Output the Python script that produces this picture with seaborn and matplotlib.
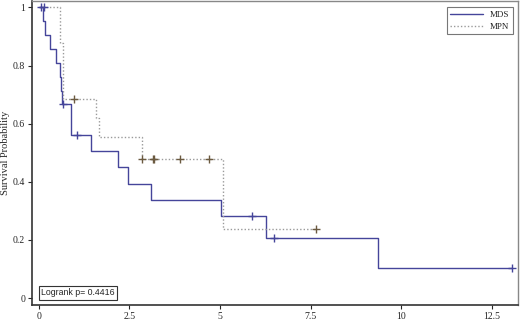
import matplotlib
matplotlib.use("Agg")
import matplotlib.pyplot as plt
import seaborn as sns
import pandas as pd

sns.set_style("ticks")
plt.rcParams['font.family'] = ['Liberation Serif', 'DejaVu Serif']

# MDS step curve (time in years, survival)
mds_time = [0.0, 0.10, 0.17, 0.30, 0.47, 0.58, 0.61, 0.65, 0.88, 0.89, 1.43, 2.19, 2.45, 3.08, 5.03, 6.26, 9.36, 13.06]
mds_surv = [1.0, 0.953, 0.905, 0.857, 0.810, 0.762, 0.714, 0.667, 0.615, 0.561, 0.506, 0.450, 0.393, 0.337, 0.281, 0.208, 0.104, 0.104]
mds_cens_t = [0.05, 0.15, 0.67, 1.04, 5.88, 6.49, 13.06]
mds_cens_s = [1.0, 1.0, 0.667, 0.561, 0.281, 0.208, 0.104]

# MPN step curve
mpn_time = [0.0, 0.58, 0.67, 1.57, 1.67, 2.84, 5.09, 7.65]
mpn_surv = [1.0, 0.877, 0.685, 0.619, 0.553, 0.479, 0.2375, 0.2375]
mpn_cens_t = [0.97, 2.84, 3.14, 3.18, 3.9, 4.70, 7.65]
mpn_cens_s = [0.685, 0.479, 0.479, 0.479, 0.479, 0.479, 0.2375]

xticks = [0, 2.5, 5, 7.5, 10, 12.5]
xticklabels = ["0", "2.5", "5", "7.5", "10", "12.5"]
yticks = [0, 0.2, 0.4, 0.6, 0.8, 1.0]
yticklabels = ["0", "0.2", "0.4", "0.6", "0.8", "1"]

mds_color = "#45459a"
mpn_color = "#9a9a9a"
cens_mpn_color = "#6b5a40"

fig = plt.figure(figsize=(5.2, 3.2), dpi=100)
ax = fig.add_axes([32/520, 15/320, (518-32)/520, (319-15)/320])

df_mds = pd.DataFrame({"t": mds_time, "s": mds_surv})
df_mpn = pd.DataFrame({"t": mpn_time, "s": mpn_surv})

sns.lineplot(data=df_mds, x="t", y="s", ax=ax, drawstyle="steps-post", color=mds_color,
             linewidth=1.0, label="MDS", estimator=None, sort=False)
sns.lineplot(data=df_mpn, x="t", y="s", ax=ax, drawstyle="steps-post", color=mpn_color,
             linewidth=1.0, linestyle=(0, (1, 1.5)), label="MPN", estimator=None, sort=False)

sns.scatterplot(x=mds_cens_t, y=mds_cens_s, ax=ax, marker="+", color=mds_color, s=35,
                linewidth=1.0, legend=False, zorder=3)
sns.scatterplot(x=mpn_cens_t, y=mpn_cens_s, ax=ax, marker="+", color=cens_mpn_color, s=35,
                linewidth=1.0, legend=False, zorder=3)

ax.set_xlim(-0.19, 13.22)
ax.set_ylim(-0.024, 1.022)
ax.set_xticks(xticks)
ax.set_xticklabels(xticklabels)
ax.set_yticks(yticks)
ax.set_yticklabels(yticklabels)
ax.tick_params(axis="both", labelsize=7, length=3, width=0.8, direction="out", pad=2)
ax.set_xlabel("")
ax.set_ylabel("Survival Probability", fontsize=7.5, labelpad=2)

for side in ["left", "bottom"]:
    ax.spines[side].set_color("#333333")
    ax.spines[side].set_linewidth(1.2)
for side in ["top", "right"]:
    ax.spines[side].set_visible(True)
    ax.spines[side].set_color("#888888")
    ax.spines[side].set_linewidth(1.0)

leg = ax.legend(loc="upper right", fontsize=6.5, frameon=True, fancybox=False,
                edgecolor="#555555", handlelength=3.6, borderpad=0.35,
                labelspacing=0.45, handletextpad=0.8, borderaxespad=0,
                bbox_to_anchor=(0.989, 0.979))
leg.get_frame().set_linewidth(0.8)
for h in leg.get_lines():
    h.set_linewidth(1.0)

ax.text(0.018, 0.025, "Logrank p= 0.4416", transform=ax.transAxes, fontsize=6.3,
        family=["Liberation Sans", "DejaVu Sans"], ha="left", va="bottom",
        bbox=dict(boxstyle="square,pad=0.25", facecolor="white", edgecolor="#333333", linewidth=0.8))

fig.savefig("out.png", dpi=100)
